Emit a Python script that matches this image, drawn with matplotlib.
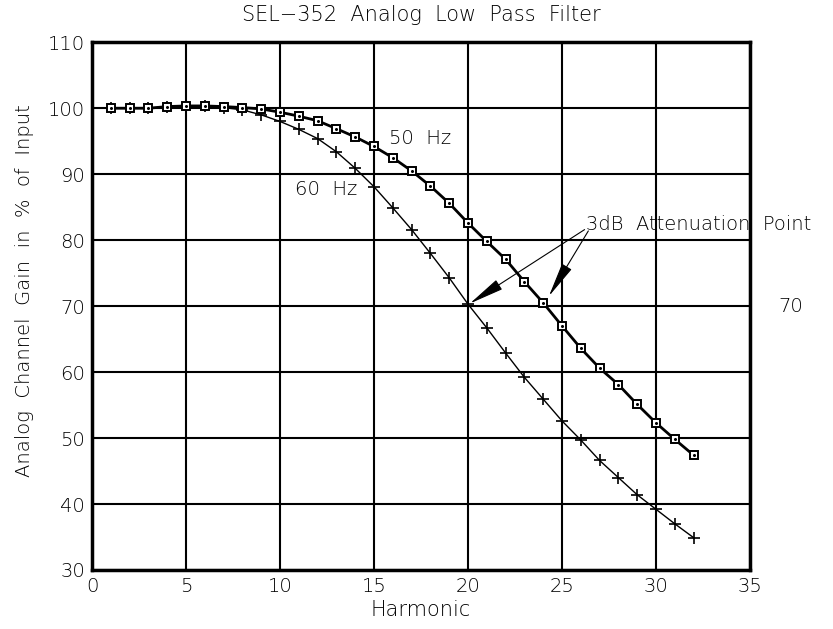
import numpy as np
import matplotlib
matplotlib.use('Agg')
import matplotlib.pyplot as plt

# harmonic number
harmonic = np.arange(1, 33)
# gain in % of input
gain_50hz = [100.0, 100.0, 100.0, 100.25, 100.35, 100.35, 100.25, 100.1, 99.9, 99.4,
             98.8, 98.1, 96.9, 95.65, 94.2, 92.5, 90.5, 88.2, 85.6, 82.6,
             79.8, 77.1, 73.7, 70.5, 67.0, 63.6, 60.6, 58.1, 55.1, 52.3,
             49.8, 47.4]
gain_60hz = [100.0, 100.0, 100.0, 100.25, 100.3, 100.3, 100.1, 99.75, 99.0, 98.0,
             96.8, 95.4, 93.4, 90.9, 88.1, 84.9, 81.6, 78.0, 74.3, 70.3,
             66.7, 62.9, 59.2, 55.9, 52.6, 49.7, 46.6, 44.0, 41.4, 39.2,
             37.0, 34.9]

title = 'SEL\u2212352  Analog  Low  Pass  Filter'
xlabel = 'Harmonic'
ylabel = 'Analog  Channel  Gain  in  %  of  Input'

plt.rcParams['font.family'] = ['DejaVu Sans']
plt.rcParams['font.weight'] = 'light'
txt = 'black'

fig = plt.figure(figsize=(8.33, 6.29), dpi=100)
ax = fig.add_axes([0.1104, 0.0938, 0.79, 0.839])

ax.plot(harmonic, gain_60hz, '-', color='black', lw=1.0, marker='+',
        markersize=9, markeredgewidth=1.2, zorder=4)
ax.plot(harmonic, gain_50hz, '-', color='black', lw=2.0, marker='s',
        markersize=5.5, markeredgewidth=1.4, markerfacecolor='white', zorder=5)
ax.plot(harmonic, gain_50hz, 'o', color='black', markersize=1.2, zorder=6)

ax.set_xlim(0, 35)
ax.set_ylim(30, 110)
ax.set_xticks(np.arange(0, 36, 5))
ax.set_yticks(np.arange(30, 111, 10))
ax.grid(True, color='black', lw=1.5)
ax.set_axisbelow(True)
ax.tick_params(length=0, labelsize=14, labelcolor=txt, pad=5)
for s in ax.spines.values():
    s.set_linewidth(2.5)

ax.set_title(title, fontsize=15, color=txt, pad=15, fontweight='light')
ax.set_xlabel(xlabel, fontsize=15, color=txt, labelpad=3, fontweight='light')
ax.set_ylabel(ylabel, fontsize=14, color=txt, fontweight='light')
ax.yaxis.set_label_coords(-0.088, 0.53)

ax.text(15.8, 95.4, '50  Hz', fontsize=14, color=txt, va='center')
ax.text(10.8, 87.7, '60  Hz', fontsize=14, color=txt, va='center')
ax.text(26.3, 82.3, '3dB  Attenuation  Point', fontsize=14, color=txt, va='center')
ax.text(36.5, 70, '70', fontsize=14, color=txt, va='center', clip_on=False)

ax.annotate('', xy=(20.1, 70.4), xytext=(26.2, 81.6),
            arrowprops=dict(arrowstyle='-|>,head_length=2.2,head_width=0.35',
                            color='black', lw=0.8, shrinkA=0, shrinkB=0))
ax.annotate('', xy=(24.3, 71.5), xytext=(26.4, 81.4),
            arrowprops=dict(arrowstyle='-|>,head_length=2.2,head_width=0.35',
                            color='black', lw=0.8, shrinkA=0, shrinkB=0))

fig.savefig('out.png', dpi=100)
